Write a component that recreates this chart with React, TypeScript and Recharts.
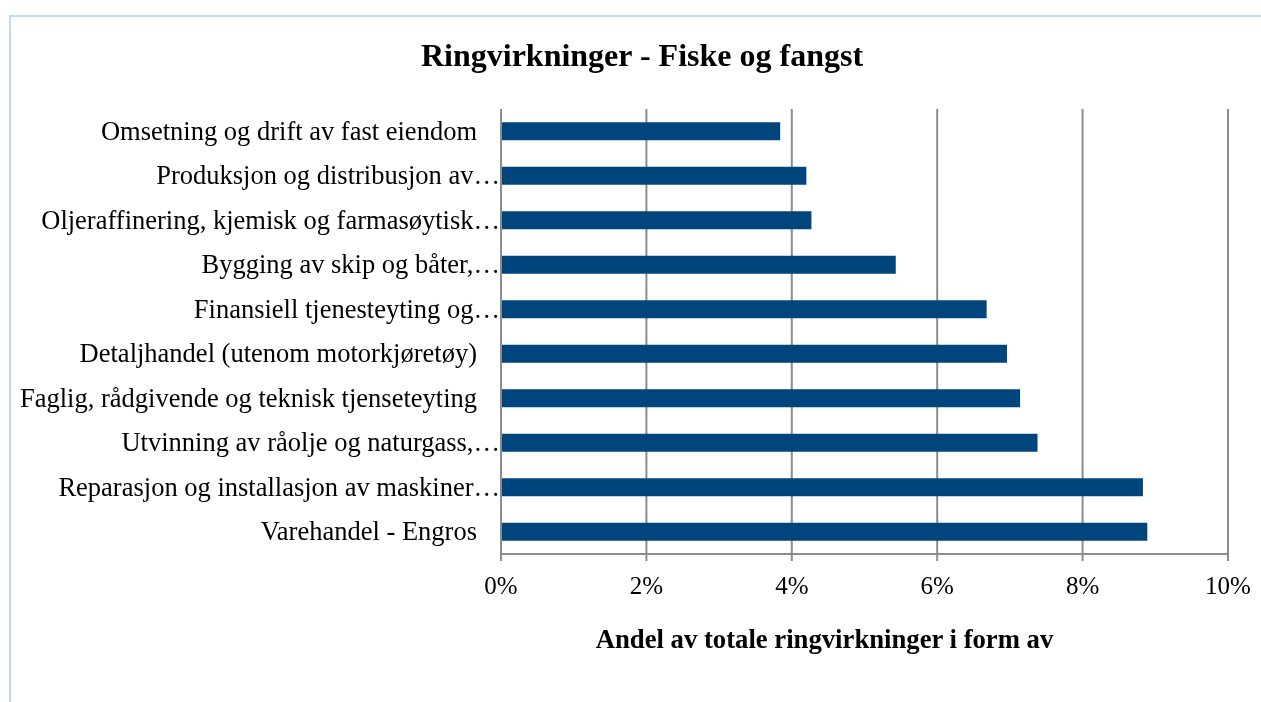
import { BarChart, Bar, XAxis, YAxis, CartesianGrid } from "recharts";

const categories = [
  "Omsetning og drift av fast eiendom",
  "Produksjon og distribusjon av…",
  "Oljeraffinering, kjemisk og farmasøytisk…",
  "Bygging av skip og båter,…",
  "Finansiell tjenesteyting og…",
  "Detaljhandel (utenom motorkjøretøy)",
  "Faglig, rådgivende og teknisk tjenseteyting",
  "Utvinning av råolje og naturgass,…",
  "Reparasjon og installasjon av maskiner…",
  "Varehandel - Engros",
];

// andel i prosent
const shares = [3.84, 4.2, 4.27, 5.43, 6.68, 6.96, 7.14, 7.38, 8.83, 8.89];

const xTicks = [0, 2, 4, 6, 8, 10];

const data = categories.map((name, i) => ({ name, share: shares[i] }));

const FONT = "'Liberation Serif', 'Times New Roman', serif";
const BAR = "#00457c";
const GRID = "#8c8c8c";

const CategoryTick = ({ x, y, payload }: any) => {
  const s: string = payload.value;
  const cut = s.endsWith("…");
  return (
    <text
      x={cut ? x - 1 : x - 24}
      y={y}
      dy="0.32em"
      textAnchor="end"
      fontFamily={FONT}
      fontSize={26.5}
      fill="#000"
    >
      {s}
    </text>
  );
};

const App = () => {
  return (
    <div style={{ position: "relative", width: 1245, height: 686 }}>
      {/* ramme rundt diagrammet, går ut over kanten av bildet */}
      <div
        style={{
          position: "fixed",
          left: 9,
          top: 15,
          right: -20,
          bottom: -20,
          border: "2px solid #bcdcfb",
          pointerEvents: "none",
        }}
      />
      <div
        style={{
          position: "absolute",
          left: 0,
          top: 27,
          width: 1268,
          textAlign: "center",
          fontFamily: FONT,
          fontWeight: "bold",
          fontSize: 32,
          lineHeight: "40px",
          color: "#000",
        }}
      >
        Ringvirkninger - Fiske og fangst
      </div>
      <div style={{ position: "absolute", left: 0, top: 0 }}>
        <BarChart
          width={1245}
          height={686}
          data={data}
          layout="vertical"
          margin={{ top: 101, right: 25, left: 0, bottom: 80 }}
          barCategoryGap="30%"
        >
          <CartesianGrid horizontal={false} stroke={GRID} strokeWidth={2} />
          <XAxis
            type="number"
            domain={[0, 10]}
            ticks={xTicks}
            tickFormatter={(v: number) => `${v}%`}
            height={60}
            stroke={GRID}
            strokeWidth={2}
            tickSize={7}
            tickMargin={15}
            tick={{ fontFamily: FONT, fontSize: 25, fill: "#000" }}
            label={{
              value: "Andel av totale ringvirkninger i form av",
              position: "bottom",
              offset: 15,
              dx: -40,
              style: { fontFamily: FONT, fontSize: 26.7, fontWeight: "bold", fill: "#000" },
            }}
          />
          <YAxis
            type="category"
            dataKey="name"
            width={493}
            stroke={GRID}
            strokeWidth={2}
            tickLine={false}
            tickSize={0}
            tickMargin={0}
            tick={<CategoryTick />}
            interval={0}
          />
          <Bar dataKey="share" fill={BAR} isAnimationActive={false} />
        </BarChart>
      </div>
    </div>
  );
};

export default App;
